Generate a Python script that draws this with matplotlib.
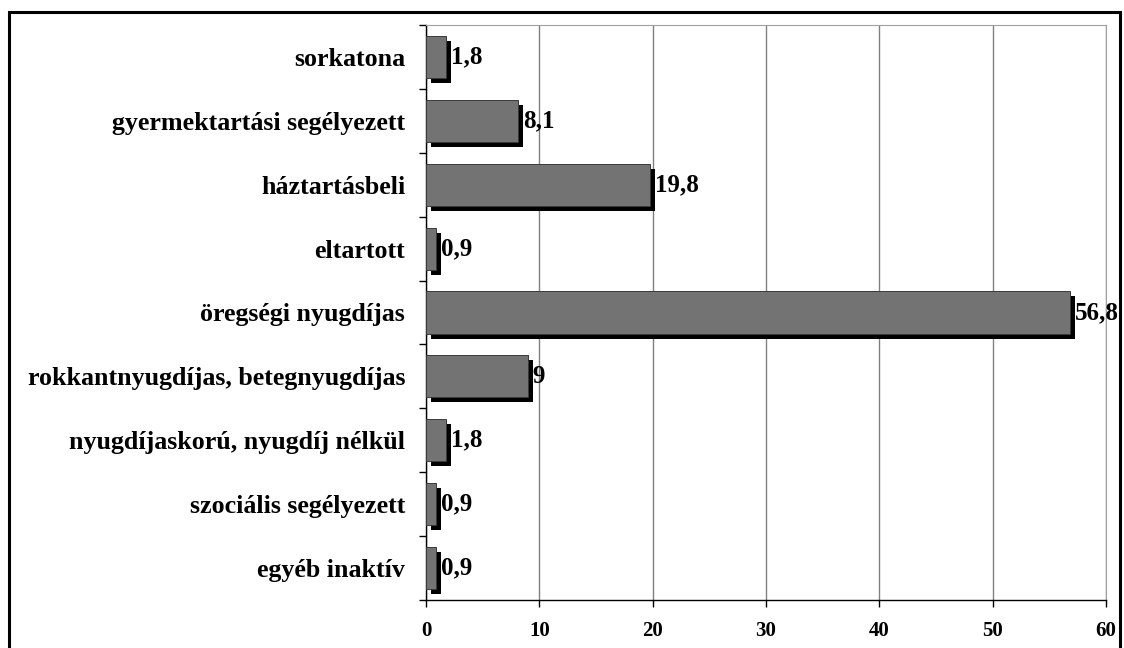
import matplotlib
matplotlib.use("Agg")
import matplotlib.pyplot as plt
import matplotlib.patheffects as pe
from matplotlib.patches import Rectangle
import numpy as np

# data (top to bottom as in the picture)
categories = [
    "sorkatona",
    "gyermektartási segélyezett",
    "háztartásbeli",
    "eltartott",
    "öregségi nyugdíjas",
    "rokkantnyugdíjas, betegnyugdíjas",
    "nyugdíjaskorú, nyugdíj nélkül",
    "szociális segélyezett",
    "egyéb inaktív",
]
values = [1.8, 8.1, 19.8, 0.9, 56.8, 9, 1.8, 0.9, 0.9]
value_labels = ["1,8", "8,1", "19,8", "0,9", "56,8", "9", "1,8", "0,9", "0,9"]
x_ticks = [0, 10, 20, 30, 40, 50, 60]

plt.rcParams.update({
    "font.family": "Liberation Serif",
    "font.weight": "bold",
    "font.size": 18,
})

fig = plt.figure(figsize=(11.24, 6.48), dpi=100)
ax = fig.add_axes([0.379, 0.0741, 0.605, 0.8873])

y = np.arange(len(categories))[::-1]
bars = ax.barh(y, values, height=0.66, color="#737373", edgecolor="#3a3a3a",
               linewidth=0.7, zorder=3)
for b in bars:
    b.set_path_effects([
        pe.SimplePatchShadow(offset=(3.6, -3.6), shadow_rgbFace="black", alpha=1.0),
        pe.Normal(),
    ])

for yi, v, lab in zip(y, values, value_labels):
    ax.annotate(lab, xy=(v, yi), xytext=(3.5, 0), textcoords="offset points",
                va="center", ha="left", fontsize=18, fontweight="bold", zorder=5)

ax.set_xlim(0, 60)
ax.set_ylim(-0.5, len(categories) - 0.5)
ax.set_xticks(x_ticks)
ax.set_xticklabels([str(t) for t in x_ticks], fontsize=15)
ax.set_yticks(y)
ax.set_yticklabels(categories, fontsize=18.7)
ax.set_yticks(np.arange(-0.5, len(categories)), minor=True)
ax.tick_params(axis="y", which="major", length=0, pad=15)
ax.tick_params(axis="y", which="minor", length=5, width=1, direction="out")
ax.tick_params(axis="x", which="major", length=5, width=1, direction="out", pad=10)

ax.grid(True, axis="x", color="#808080", linewidth=1, zorder=0)
ax.set_axisbelow(True)
for s in ["top", "right"]:
    ax.spines[s].set_color("#a0a0a0")
for s in ["left", "bottom"]:
    ax.spines[s].set_color("black")
    ax.spines[s].set_linewidth(1)

# outer frame
fig.patches.append(Rectangle((8.5 / 1124, -0.02), (1119.5 - 8.5) / 1124, 1 - 11.5 / 648 + 0.02,
                             transform=fig.transFigure, fill=False,
                             edgecolor="black", linewidth=2.2))

fig.savefig("out.png", dpi=100)
